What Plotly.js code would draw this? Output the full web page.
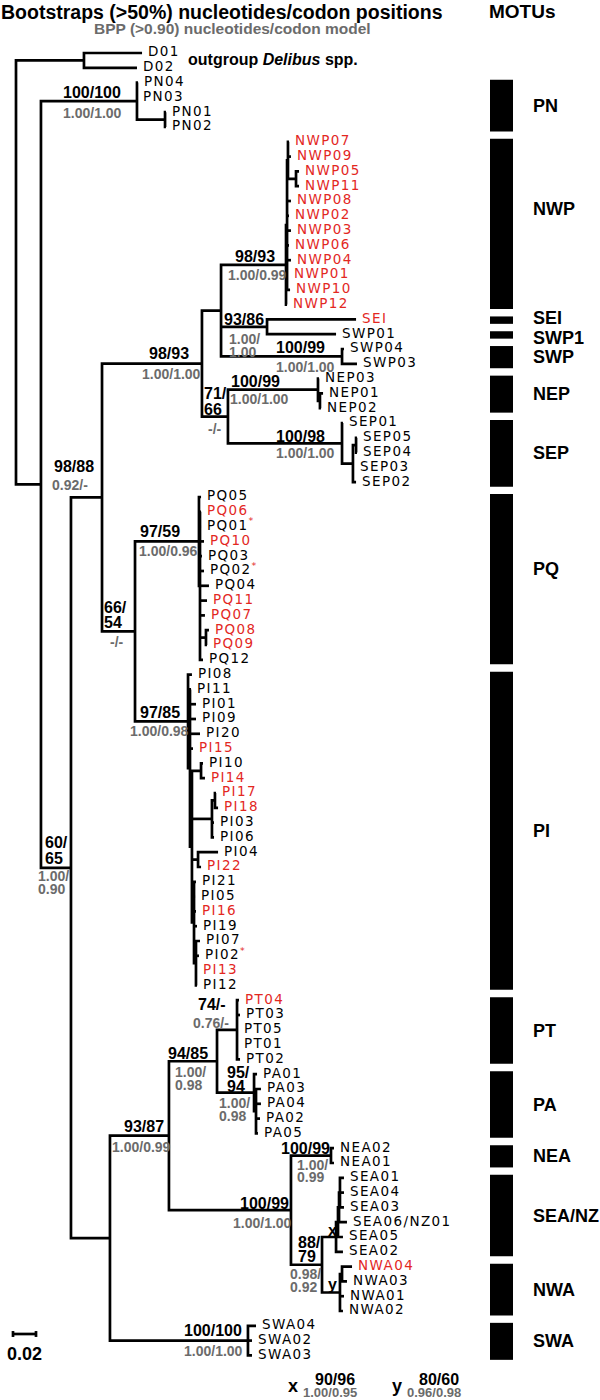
<!DOCTYPE html>
<html><head><meta charset="utf-8">
<script src="https://cdn.plot.ly/plotly-3.0.1.min.js"></script>
<style>html,body{margin:0;padding:0;background:#fff}#chart{width:600px;height:1400px}.textpoint text{letter-spacing:1.4px}</style>
</head><body><div id="chart"></div>
<script>
// ---------------- DATA ----------------
const tipNames = ['D01','D02','PN04','PN03','PN01','PN02','NWP07','NWP09','NWP05','NWP11','NWP08','NWP02','NWP03','NWP06','NWP04','NWP01','NWP10','NWP12','SEI','SWP01','SWP04','SWP03','NEP03','NEP01','NEP02','SEP01','SEP05','SEP04','SEP03','SEP02','PQ05','PQ06','PQ01','PQ10','PQ03','PQ02','PQ04','PQ11','PQ07','PQ08','PQ09','PQ12','PI08','PI11','PI01','PI09','PI20','PI15','PI10','PI14','PI17','PI18','PI03','PI06','PI04','PI22','PI21','PI05','PI16','PI19','PI07','PI02','PI13','PI12','PT04','PT03','PT05','PT01','PT02','PA01','PA03','PA04','PA02','PA05','NEA02','NEA01','SEA01','SEA04','SEA03','SEA06/NZ01','SEA05','SEA02','NWA04','NWA03','NWA01','NWA02','SWA04','SWA02','SWA03'];
const tipParent = ['OUT','OUT','PN','PN','PNs','PNs','NWP2','NWP2','NWP3','NWP3','NWP1','NWP1','NWP1','NWP1','NWP1','NWP1','NWP1','NWP0','SEIn','SEIn','SWP','SWP','NEP','NEPs','NEPs','SEP','SEPss','SEPss','SEPs','SEPs','PQ0','PQ1','PQ1','PQ1','PQ1','PQ1','PQ1','PQ1','PQ1','PQ2','PQ2','PQ1','PI0','PI1','PI1','PI1','PI1','PI1','PI1014','PI1014','PI1718','PI1718','PI1706','PI1706','PI0422','PI0422','PI3','PI3','PI3','PI3','PIbot','PIbot','PIbot','PIbot','PT','PT','PT','PT','PT','PA','PAs','PAs','PAs','PAs','NEA','NEA','X3','X3','X3','X2','X1','X0','Ys','Ys','Y0','Y0','SWA','SWA','SWA'];
// cumulative branch length from the root (substitutions/site)
const tipDepth = [0.1096,0.1052,0.1061,0.1052,0.1304,0.1304,0.2374,0.2391,0.2461,0.2461,0.2391,0.2374,0.2391,0.2374,0.2391,0.2365,0.2383,0.2357,0.2957,0.2783,0.2852,0.2965,0.2635,0.2670,0.2652,0.2843,0.2965,0.2965,0.2939,0.2957,0.1609,0.1609,0.1609,0.1635,0.1617,0.1635,0.1678,0.1661,0.1643,0.1678,0.1661,0.1626,0.1530,0.1522,0.1565,0.1565,0.1600,0.1539,0.1626,0.1643,0.1739,0.1757,0.1722,0.1722,0.1757,0.1609,0.1565,0.1557,0.1565,0.1574,0.1600,0.1591,0.1574,0.1574,0.1939,0.1948,0.1930,0.1930,0.1948,0.2096,0.2130,0.2130,0.2122,0.2104,0.2765,0.2765,0.2852,0.2852,0.2852,0.2878,0.2843,0.2843,0.2922,0.2878,0.2852,0.2843,0.2087,0.2052,0.2052];
const redTips = ['NWP07','NWP09','NWP05','NWP11','NWP08','NWP02','NWP03','NWP06','NWP04','NWP01','NWP10','NWP12','SEI','PQ06','PQ10','PQ11','PQ07','PQ08','PQ09','PI15','PI14','PI17','PI18','PI22','PI16','PI13','PT04','NWA04'];
const starredTips = ['PQ01','PQ02','PI02'];

const nodeNames = ['root','OUT','A','PN','PNs','B','C','D','J','NWP0','NWP1','NWP2','NWP3','SEIn','SWP','K','NEP','NEPs','SEP','SEPs','SEPss','E','PQ0','PQ1','PQ2','PI0','PI1','PI2','PI1014','PI1706','PI1718','PI0422','PI3','PIbot','F','G','H','PT','PA','PAs','I','NEA','N88','X0','X1','X2','X3','Y0','Ys','SWA'];
const nodeParent = [null,'root','root','A','PN','A','B','C','D','J','NWP0','NWP1','NWP2','J','J','D','K','NEP','K','SEP','SEPs','C','E','PQ0','PQ1','E','PI0','PI1','PI2','PI2','PI1706','PI2','PI2','PI3','B','F','G','H','H','PA','G','I','I','N88','X0','X1','X2','N88','Y0','F'];
const nodeDepth = [0,0.0591,0.0217,0.1052,0.1296,0.0478,0.0748,0.1617,0.1783,0.2348,0.2357,0.2365,0.2435,0.2183,0.2835,0.1843,0.2626,0.2643,0.2835,0.2930,0.2957,0.1035,0.1591,0.1600,0.1652,0.1496,0.1513,0.1530,0.1609,0.1704,0.1730,0.1583,0.1548,0.1565,0.0817,0.1330,0.1748,0.1922,0.2070,0.2087,0.2391,0.2739,0.2661,0.2783,0.2800,0.2809,0.2817,0.2817,0.2835,0.2017];

const supportNodes = ['PN','NWP0','D','SEIn','SWP','K','NEP','SEP','C','E','PQ0','PI0','B','PT','H','PA','G','I','NEA','N88','SWA'];
const bootstrapVals = ['100/100','98/93','98/93','93/86','100/99','71/66','100/99','100/98','98/88','66/54','97/59','97/85','60/65','74/-','94/85','95/94','93/87','100/99','100/99','88/79','100/100'];
const bppVals = ['1.00/1.00','1.00/0.99','1.00/1.00','1.00/1.00','1.00/1.00','-/-','1.00/1.00','1.00/1.00','0.92/-','-/-','1.00/0.96','1.00/0.98','1.00/0.90','0.76/-','1.00/0.98','1.00/0.98','1.00/0.99','1.00/1.00','1.00/0.99','0.98/0.92','1.00/1.00'];

const markedNodes = ['X0','Y0'];
const markedLetters = ['x','y'];
const markedBootstrap = ['90/96','80/60'];
const markedBpp = ['1.00/0.95','0.96/0.98'];

const motuNames = ['PN','NWP','SEI','SWP1','SWP','NEP','SEP','PQ','PI','PT','PA','NEA','SEA/NZ','NWA','SWA'];
const motuFirst = ['PN04','NWP07','SEI','SWP01','SWP04','NEP03','SEP01','PQ05','PI08','PT04','PA01','NEA02','SEA01','NWA04','SWA04'];
const motuLast  = ['PN02','NWP12','SEI','SWP01','SWP03','NEP02','SEP02','PQ12','PI12','PT02','PA05','NEA01','SEA02','NWA02','SWA03'];

const scaleBarLength = 0.02;

// ---------------- LAYOUT CONSTANTS ----------------
const W = 600, H = 1400;
const PX_PER_UNIT = 1150, ROOT_PX = 16;
const TIP_TOP = 53, TIP_STEP = 14.8;
const RED = '#e3281f', GREY = '#6b6b6b';
const FONT = 'Liberation Sans, Arial, sans-serif';
const px = x => x / W, py = y => 1 - y / H;

// ---------------- TREE GEOMETRY ----------------
const parentOf = {}, depthOf = {}, children = {}, yOf = {};
nodeNames.forEach((n, i) => { parentOf[n] = nodeParent[i]; depthOf[n] = nodeDepth[i]; });
tipNames.forEach((n, i) => { parentOf[n] = tipParent[i]; depthOf[n] = tipDepth[i]; yOf[n] = i; });
nodeNames.concat(tipNames).forEach(n => { const p = parentOf[n]; if (p) (children[p] = children[p] || []).push(n); });
function calcY(n) {
  if (yOf[n] !== undefined) return yOf[n];
  const ys = children[n].map(calcY);
  yOf[n] = (Math.min(...ys) + Math.max(...ys)) / 2;
  return yOf[n];
}
calcY('root');

const lx = [], ly = [];
nodeNames.forEach(n => {
  const ch = children[n].slice().sort((a, b) => yOf[a] - yOf[b]);
  const f = ch[0], l = ch[ch.length - 1], x = depthOf[n];
  lx.push(depthOf[f], x, x, depthOf[l], null);
  ly.push(yOf[f], yOf[f], yOf[l], yOf[l], null);
  ch.slice(1, -1).forEach(c => { lx.push(x, depthOf[c], null); ly.push(yOf[c], yOf[c], null); });
});

const traces = [];
traces.push({type: 'scatter', mode: 'lines', x: lx, y: ly, connectgaps: false,
  line: {color: '#000', width: 2.7}, hoverinfo: 'skip', showlegend: false});

// tip labels (invisible markers only give the text its gap from the branch tip)
traces.push({type: 'scatter', mode: 'markers+text', x: tipDepth, y: tipNames.map((n, i) => i),
  marker: {size: 8, opacity: 0},
  text: tipNames.map(n => starredTips.includes(n) ? n + '<span style="color:' + RED + '"><sup>*</sup></span>' : n),
  textposition: 'middle right', cliponaxis: false,
  textfont: {family: 'DejaVu Sans, sans-serif', size: 13.5, color: tipNames.map(n => redTips.includes(n) ? RED : '#000')},
  hoverinfo: 'skip', showlegend: false});

// MOTU bars
const motuStart = motuFirst.map(n => yOf[n] - 0.2);
const motuLen = motuLast.map((n, i) => yOf[n] + 0.3 - motuStart[i]);
const MOTU_X = (501.5 - ROOT_PX) / PX_PER_UNIT;
traces.push({type: 'bar', x: motuNames.map(() => MOTU_X), y: motuLen, base: motuStart,
  width: 23 / PX_PER_UNIT, marker: {color: '#000', line: {width: 0}}, hoverinfo: 'skip', showlegend: false});

// scale bar
const SB_X = (13 - ROOT_PX) / PX_PER_UNIT, SB_Y = (1334 - TIP_TOP) / TIP_STEP, CAP = 0.2;
traces.push({type: 'scatter', mode: 'lines',
  x: [SB_X, SB_X + scaleBarLength, null, SB_X, SB_X, null, SB_X + scaleBarLength, SB_X + scaleBarLength],
  y: [SB_Y, SB_Y, null, SB_Y - CAP, SB_Y + CAP, null, SB_Y - CAP, SB_Y + CAP],
  line: {color: '#000', width: 2.7}, hoverinfo: 'skip', showlegend: false});

// ---------------- ANNOTATIONS ----------------
const ann = [];
function addText(o) {
  ann.push(Object.assign({showarrow: false, borderpad: 0, borderwidth: 0, xanchor: 'left', yanchor: 'middle'}, o));
}
// [dx, dy(center of first line), lineStep if the label is wrapped after '/']
const labelPlacement = {
  PN:   {b: [-74, -9],          g: [-74, 12]},
  NWP0: {b: [-51, -8],          g: [-58, 10]},
  D:    {b: [-53, -10],         g: [-60, 10]},
  SEIn: {b: [-43, -7],          g: [-38, 12, 13]},
  SWP:  {b: [-66, -9],          g: [-66, 11]},
  K:    {b: [-24, -23.5, 16],   g: [-20, 12.5]},
  NEP:  {b: [-87, -8],          g: [-88, 9]},
  SEP:  {b: [-66, -7],          g: [-66, 10]},
  C:    {b: [-48, -30.5],       g: [-50, -12.5]},
  E:    {b: [-31, -24, 15],     g: [-25, 11]},
  PQ0:  {b: [-59, -9.5],        g: [-60, 9.5]},
  PI0:  {b: [-48, -9],          g: [-58, 9.5]},
  B:    {b: [-26, -25, 16],     g: [-33, 8, 13]},
  PT:   {b: [-39, -25],         g: [-44, -7]},
  H:    {b: [-49, -8],          g: [-42, 11, 13]},
  PA:   {b: [-27, -20, 14],     g: [-35, 10, 13]},
  G:    {b: [-45, -9],          g: [-57, 11]},
  I:    {b: [-51, -7],          g: [-58, 13]},
  NEA:  {b: [-50, -7],          g: [-34, 9, 12]},
  N88:  {b: [-24, -22, 14],     g: [-32, 9, 13]},
  SWA:  {b: [-64, -10],         g: [-64, 10]}
};
function supportLabel(node, text, kind, pl) {
  const lines = pl[2] ? [text.slice(0, text.indexOf('/') + 1), text.slice(text.indexOf('/') + 1)] : [text];
  lines.forEach((t, k) => addText({
    x: depthOf[node], y: yOf[node], xref: 'x', yref: 'y',
    xshift: pl[0], yshift: -(pl[1] + k * (pl[2] || 0)),
    text: '<b>' + t + '</b>',
    font: kind === 'b' ? {family: FONT, size: 16, color: '#000'} : {family: FONT, size: 14, color: GREY}
  }));
}
supportNodes.forEach((n, i) => {
  supportLabel(n, bootstrapVals[i], 'b', labelPlacement[n].b);
  supportLabel(n, bppVals[i], 'g', labelPlacement[n].g);
});
// x / y node markers
const markPlacement = {X0: [-8, -7], Y0: [-12, -8]};
markedNodes.forEach((n, i) => addText({x: depthOf[n], y: yOf[n], xref: 'x', yref: 'y',
  xshift: markPlacement[n][0], yshift: -markPlacement[n][1],
  text: '<b>' + markedLetters[i] + '</b>', font: {family: FONT, size: 16, color: '#000'}}));
// footnote for x / y
const footX = [288, 392];
markedNodes.forEach((n, i) => {
  addText({x: px(footX[i]), y: py(1386), xref: 'paper', yref: 'paper', text: '<b>' + markedLetters[i] + '</b>', font: {family: FONT, size: 18, color: '#000'}});
  addText({x: px(footX[i] + 27), y: py(1379), xref: 'paper', yref: 'paper', text: '<b>' + markedBootstrap[i] + '</b>', font: {family: FONT, size: 16, color: '#000'}});
  addText({x: px(footX[i] + 15), y: py(1392), xref: 'paper', yref: 'paper', text: '<b>' + markedBpp[i] + '</b>', font: {family: FONT, size: 13, color: GREY}});
});
// MOTU labels
const motuDy = {NWP: -15, PQ: -10, SEI: -2, SWP1: 3};
motuNames.forEach((m, i) => addText({x: px(533), xref: 'paper', y: motuStart[i] + motuLen[i] / 2, yref: 'y',
  yshift: -(motuDy[m] || 0), text: '<b>' + m + '</b>', font: {family: FONT, size: 18, color: '#000'}}));
// titles
addText({x: px(1), y: py(11.5), xref: 'paper', yref: 'paper', text: '<b>Bootstraps (>50%) nucleotides/codon positions</b>', font: {family: FONT, size: 19.5, color: '#000'}});
addText({x: px(232), xanchor: 'center', y: py(29), xref: 'paper', yref: 'paper', text: '<b>BPP (>0.90) nucleotides/codon model</b>', font: {family: FONT, size: 15.5, color: GREY}});
addText({x: px(489), y: py(11.5), xref: 'paper', yref: 'paper', text: '<b>MOTUs</b>', font: {family: FONT, size: 19, color: '#000'}});
addText({x: px(188), y: py(60), xref: 'paper', yref: 'paper', text: '<b>outgroup <i>Delibus</i> spp.</b>', font: {family: FONT, size: 16, color: '#000'}});
// scale bar label
addText({x: SB_X + scaleBarLength / 2, xanchor: 'center', y: SB_Y, xref: 'x', yref: 'y', yshift: -20,
  text: '<b>' + scaleBarLength + '</b>', font: {family: FONT, size: 18, color: '#000'}});

const layout = {
  width: W, height: H, margin: {l: 0, r: 0, t: 0, b: 0, pad: 0},
  paper_bgcolor: '#fff', plot_bgcolor: '#fff', showlegend: false, barmode: 'overlay',
  xaxis: {range: [-ROOT_PX / PX_PER_UNIT, (W - ROOT_PX) / PX_PER_UNIT], visible: false, fixedrange: true},
  yaxis: {range: [(H - TIP_TOP) / TIP_STEP, -TIP_TOP / TIP_STEP], visible: false, fixedrange: true},
  annotations: ann
};
Plotly.newPlot('chart', traces, layout, {displayModeBar: false, staticPlot: true});
</script></body></html>
